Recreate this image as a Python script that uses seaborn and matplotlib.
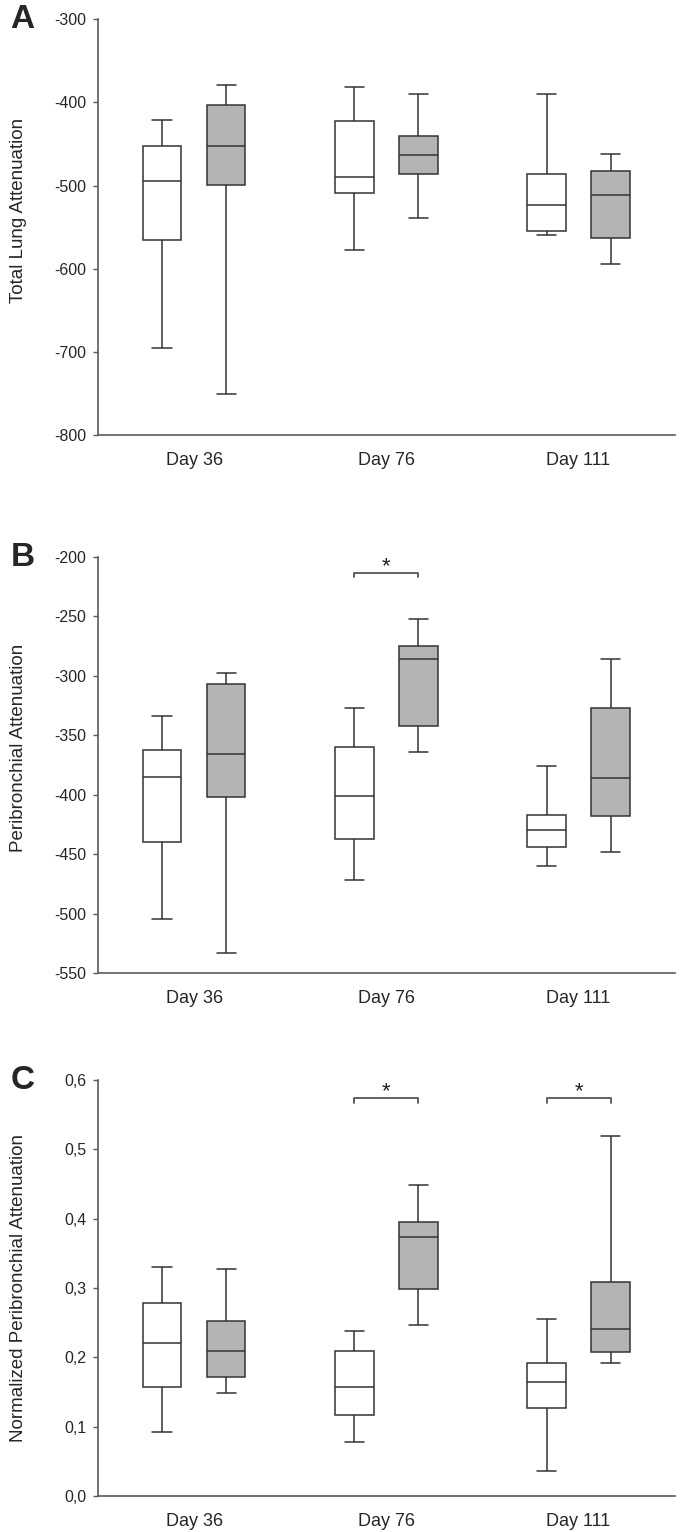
import pandas as pd
import seaborn as sns
import matplotlib
matplotlib.use("Agg")
import matplotlib.pyplot as plt
from matplotlib.ticker import FuncFormatter

days = ["Day 36", "Day 76", "Day 111"]
groups = ["Control", "Treated"]

# five-number summaries: whisker low, Q1, median, Q3, whisker high
total_control = [[-695, -565, -495, -453, -421],
                 [-578, -509, -490, -422, -381],
                 [-560, -555, -524, -486, -390]]
total_treated = [[-751, -499, -453, -403, -379],
                 [-539, -486, -463, -441, -390],
                 [-594, -563, -511, -482, -462]]

peri_control = [[-505, -440, -385, -362, -334],
                [-472, -437, -401, -360, -327],
                [-460, -444, -430, -417, -376]]
peri_treated = [[-533, -402, -366, -307, -298],
                [-364, -342, -286, -275, -252],
                [-448, -418, -386, -327, -286]]

norm_control = [[0.092, 0.157, 0.221, 0.279, 0.331],
                [0.078, 0.117, 0.157, 0.209, 0.238],
                [0.036, 0.127, 0.165, 0.192, 0.256]]
norm_treated = [[0.148, 0.172, 0.209, 0.252, 0.328],
                [0.247, 0.298, 0.373, 0.395, 0.449],
                [0.192, 0.207, 0.241, 0.308, 0.519]]


def to_long(control, treated):
    rows = []
    for grp, summ in zip(groups, [control, treated]):
        for day, vals in zip(days, summ):
            for v in vals:
                rows.append({"day": day, "group": grp, "value": v})
    return pd.DataFrame(rows)


sns.set_theme(style="white")
plt.rcParams["font.family"] = ["Liberation Sans", "DejaVu Sans"]
plt.rcParams["axes.unicode_minus"] = False

fig = plt.figure(figsize=(6.85, 15.32), dpi=100)

panels = [
    ("A", to_long(total_control, total_treated), "Total Lung Attenuation",
     (-800, -300), list(range(-800, -299, 100)), 0.716, 0.54, []),
    ("B", to_long(peri_control, peri_treated), "Peribronchial Attenuation",
     (-550, -200), list(range(-550, -199, 50)), 0.3649, 0.54, [(1, -213.5, -216.5)]),
    ("C", to_long(norm_control, norm_treated), "Normalized Peribronchial Attenuation",
     (0, 0.6), [0, 0.1, 0.2, 0.3, 0.4, 0.5, 0.6], 0.0235, 0.5,
     [(1, 0.574, 0.567), (2, 0.574, 0.567)]),
]

palette = {"Control": "white", "Treated": "#b4b4b4"}
box_width = 0.667
spine_col = "#5a5a5a"

for letter, df, ylabel, ylim, yticks, bottom, ylab_y, brackets in panels:
    ax = fig.add_axes([0.143, bottom, 0.842, 0.2715])
    sns.boxplot(data=df, x="day", y="value", hue="group", order=days,
                hue_order=groups, palette=palette, width=box_width, gap=0.4,
                whis=(0, 100), linecolor="#333333", linewidth=1.1,
                fliersize=0, legend=False, ax=ax)
    ax.set_ylim(*ylim)
    ax.set_xlim(-0.5, 2.5)
    ax.set_yticks(yticks)
    if letter == "C":
        ax.yaxis.set_major_formatter(FuncFormatter(lambda v, p: f"{v:.1f}".replace(".", ",")))
    ax.set_xlabel("")
    ax.set_ylabel(ylabel, fontsize=13.5)
    ax.yaxis.set_label_coords(-0.123, ylab_y)
    sns.despine(ax=ax)
    for s in ["left", "bottom"]:
        ax.spines[s].set_color(spine_col)
        ax.spines[s].set_linewidth(1.2)
    ax.tick_params(axis="y", left=True, length=3.5, width=1, color=spine_col,
                   labelsize=11.5, pad=5)
    ax.tick_params(axis="x", bottom=False, labelsize=13, pad=6)

    off = box_width / 4
    for cat, yl, yt in brackets:
        x0, x1 = cat - off, cat + off
        ax.plot([x0, x0, x1, x1], [yt, yl, yl, yt], color="#555555", lw=1.3,
                clip_on=False)
        ax.annotate("*", xy=(cat, yl), xytext=(0, 0.5), textcoords="offset points",
                    ha="center", va="baseline", fontsize=16, color="#222222")

    top_px = 1 - (bottom + 0.2715)
    fig.text(0.015, 1 - top_px, letter, fontsize=24, fontweight="bold",
             ha="left", va="center")

fig.savefig("out.png", dpi=100)
